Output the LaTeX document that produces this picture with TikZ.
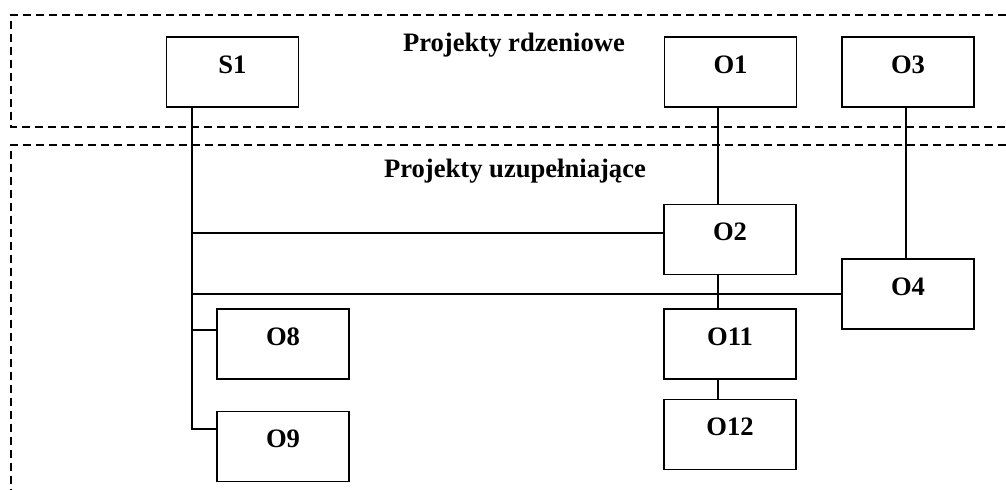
\documentclass[tikz,border=0pt]{standalone}
\usepackage{fontspec}
\setmainfont{Liberation Serif}
\usetikzlibrary{calc}

\begin{document}
\begin{tikzpicture}[x=0.5pt,y=-0.5pt,
    proj/.style={draw,line width=0.75pt,minimum width=66pt,minimum height=35pt,inner sep=0pt,
      font=\fontsize{13.3}{16}\selectfont\bfseries,text height=6.6pt,text depth=5.4pt},
    area/.style={line width=0.6pt,dash pattern=on 4pt off 2.5pt},
    title/.style={anchor=base,font=\fontsize{13.3}{16}\selectfont\bfseries},
    link/.style={line width=0.55pt}]
		\useasboundingbox (0,0) rectangle (1006,490);
		% the two groups
		\draw[area] (1006,15) -- (11,15) -- (11,127) -- (1006,127);
		\draw[area] (1006,145) -- (11,145) -- (11,490);
		\node[title] (core) at (514,52) {Projekty rdzeniowe};
		\node[title] (extra) at (515,178) {Projekty uzupełniające};
		% projects
		\node[proj] (s1) at (232.5,72) {S1};
		\node[proj] (o1) at (730.5,72) {O1};
		\node[proj] (o3) at (908,72) {O3};
		\node[proj] (o2) at (730,239.5) {O2};
		\node[proj] (o4) at (908,294) {O4};
		\node[proj] (o8) at (283,344) {O8};
		\node[proj] (o9) at (283,446.5) {O9};
		\node[proj] (o11) at (730,344) {O11};
		\node[proj] (o12) at (730,434.5) {O12};
		% where the lines run
		\coordinate (trunk) at (192,0);
		\coordinate (col1) at (718,0);
		\coordinate (col3) at (906,0);
		\coordinate (j2) at ($(o2.west)+(0,-6.5)$);
		\coordinate (j8) at ($(o8.west)+(0,-14)$);
		\coordinate (j9) at ($(o9.west)+(0,-17.5)$);
		% links
		\draw[link] (s1.south -| trunk) |- (j9);
		\draw[link] (j8 -| trunk) -- (j8);
		\draw[link] (j2 -| trunk) -- (j2);
		\draw[link] (o4.west -| trunk) -- (o4.west);
		\draw[link] (o1.south -| col1) -- (o2.north -| col1);
		\draw[link] (o2.south -| col1) -- (o11.north -| col1);
		\draw[link] (o11.south -| col1) -- (o12.north -| col1);
		\draw[link] (o3.south -| col3) -- (o4.north -| col3);
\end{tikzpicture}
\end{document}
